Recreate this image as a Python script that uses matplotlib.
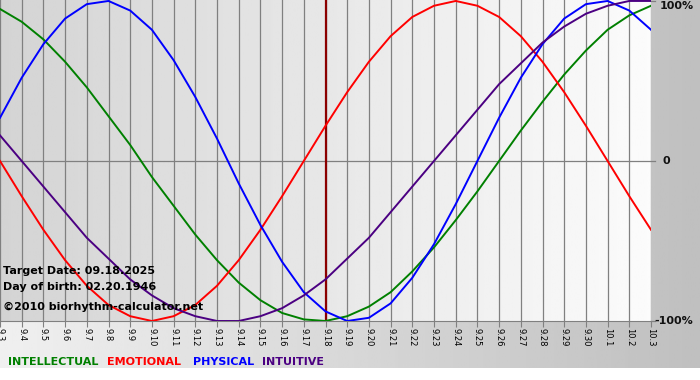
import numpy as np
import matplotlib
matplotlib.use("Agg")
import matplotlib.pyplot as plt
import matplotlib.transforms as mtransforms

# day labels, 9.3 .. 10.3
days = ["9.3", "9.4", "9.5", "9.6", "9.7", "9.8", "9.9", "9.10", "9.11", "9.12",
        "9.13", "9.14", "9.15", "9.16", "9.17", "9.18", "9.19", "9.20", "9.21", "9.22",
        "9.23", "9.24", "9.25", "9.26", "9.27", "9.28", "9.29", "9.30", "10.1", "10.2", "10.3"]

intellectual = [0.95, 0.87, 0.76, 0.62, 0.46, 0.28, 0.10, -0.10, -0.28, -0.46,
                -0.62, -0.76, -0.87, -0.95, -0.99, -1.00, -0.97, -0.91, -0.82, -0.69,
                -0.54, -0.37, -0.19, 0.00, 0.19, 0.37, 0.54, 0.69, 0.82, 0.91, 0.97]
emotional = [0.00, -0.22, -0.43, -0.62, -0.78, -0.90, -0.97, -1.00, -0.97, -0.90,
             -0.78, -0.62, -0.43, -0.22, 0.00, 0.22, 0.43, 0.62, 0.78, 0.90,
             0.97, 1.00, 0.97, 0.90, 0.78, 0.62, 0.43, 0.22, 0.00, -0.22, -0.43]
physical = [0.27, 0.52, 0.73, 0.89, 0.98, 1.00, 0.94, 0.82, 0.63, 0.40,
            0.14, -0.14, -0.40, -0.63, -0.82, -0.94, -1.00, -0.98, -0.89, -0.73,
            -0.52, -0.27, 0.00, 0.27, 0.52, 0.73, 0.89, 0.98, 1.00, 0.94, 0.82]
intuitive = [0.16, 0.00, -0.16, -0.32, -0.48, -0.61, -0.74, -0.84, -0.92, -0.97,
             -1.00, -1.00, -0.97, -0.92, -0.84, -0.74, -0.61, -0.48, -0.32, -0.16,
             0.00, 0.16, 0.32, 0.48, 0.61, 0.74, 0.84, 0.92, 0.97, 1.00, 1.00]

target_day = "9.18"
series = [("INTELLECTUAL", intellectual, "#008000"),
          ("EMOTIONAL", emotional, "#ff0000"),
          ("PHYSICAL", physical, "#0000ff"),
          ("INTUITIVE", intuitive, "#4b0082")]

W, H = 700, 380
fig = plt.figure(figsize=(W / 100, H / 100), dpi=100)
fig.patch.set_facecolor("white")

# outer grey gradient behind everything (white strip at the very bottom)
bg = fig.add_axes([0, 12 / H, 1, 368 / H], zorder=0)
grad = np.linspace(0.94, 0.75, 256).reshape(1, -1)
bg.imshow(grad, cmap="gray", vmin=0, vmax=1, aspect="auto", extent=[0, 1, 0, 1])
bg.axis("off")

ax = fig.add_axes([0, 1 - 321 / H, 651 / W, 321 / H], zorder=1)
ax.patch.set_alpha(0)
x = np.arange(len(days))
ymin, ymax = -1.0, 1.006
inner = np.linspace(0.83, 0.985, 256).reshape(1, -1)
ax.imshow(inner, cmap="gray", vmin=0, vmax=1, aspect="auto",
          extent=[0, len(days) - 1, ymin, ymax], zorder=0)

for xi in x:
    ax.axvline(xi, color="#808080", lw=0.9, zorder=1)
ax.axhline(0, color="#808080", lw=0.9, zorder=1)
ax.axvline(days.index(target_day), color="#8b0000", lw=1.6, zorder=2)

for name, vals, col in series:
    ax.plot(x, vals, color=col, lw=1.4, zorder=3, solid_joinstyle="round")

ax.set_xlim(0, len(days) - 1)
ax.set_ylim(ymin, ymax)
ax.set_xticks(x)
ax.set_xticklabels(days, rotation=-90, fontsize=6, family="DejaVu Sans")
ax.tick_params(axis="x", direction="out", length=4, color="#808080", pad=1)
ax.set_yticks([])
for s in ["top", "left", "right"]:
    ax.spines[s].set_visible(False)
ax.spines["bottom"].set_color("#808080")

# right-hand percent labels with small ticks
trans = mtransforms.blended_transform_factory(ax.transAxes, ax.transData)
for val, lab, va, dx in [(1, "100%", "top", 1.014), (0, "0", "center", 1.018), (-1, "-100%", "center", 1.005)]:
    ax.plot([1.0, 1.006], [val, val], color="#808080", lw=0.9, transform=trans, clip_on=False)
    ax.text(dx, val, lab, transform=trans, ha="left", va=va,
            fontsize=8, fontweight="bold", color="#111111")

# info text
fig.text(3 / W, 1 - 271 / H, "Target Date: 09.18.2025", fontsize=8, fontweight="bold", va="center")
fig.text(3 / W, 1 - 287 / H, "Day of birth: 02.20.1946", fontsize=8, fontweight="bold", va="center")
fig.text(3 / W, 1 - 307 / H, "\u00a92010 biorhythm-calculator.net", fontsize=8, fontweight="bold", va="center")

# legend row
legend_x = [8, 107, 193, 262]
for (name, vals, col), lx in zip(series, legend_x):
    fig.text(lx / W, 1 - 362 / H, name, color=col, fontsize=8, fontweight="bold", va="center")

fig.savefig("out.png", dpi=100)
